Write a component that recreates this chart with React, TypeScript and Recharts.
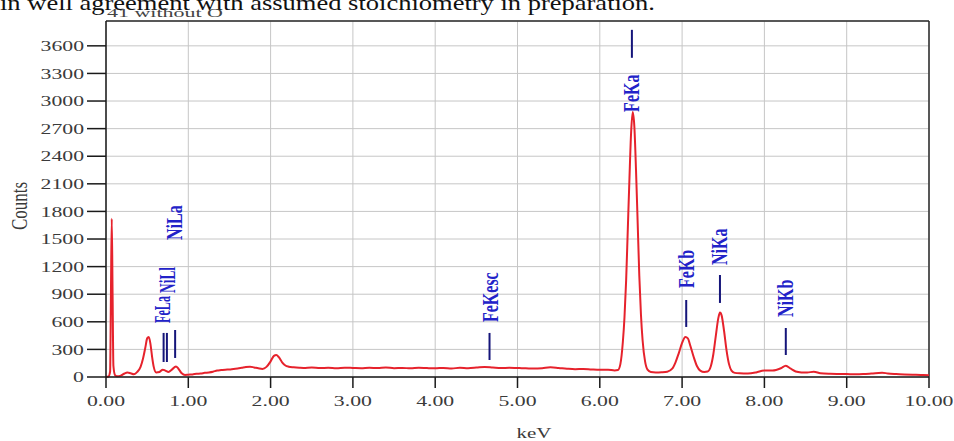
import React from "react";
import { LineChart, Line, XAxis, YAxis, CartesianGrid, ReferenceLine, ReferenceDot } from "recharts";

const energyKeV = [
  0.0, 0.03, 0.05, 0.06, 0.07, 0.08, 0.09, 0.11, 0.14, 0.18, 0.22, 0.26, 0.3, 0.34, 0.38, 0.42, 0.45, 0.48, 0.5, 0.52,
  0.54, 0.56, 0.58, 0.61, 0.65, 0.69, 0.72, 0.76, 0.8, 0.85, 0.88, 0.92, 0.96, 1.0, 1.05, 1.1, 1.15, 1.2, 1.25, 1.3,
  1.35, 1.4, 1.45, 1.5, 1.55, 1.6, 1.65, 1.7, 1.75, 1.8, 1.85, 1.9, 1.95, 2.0, 2.04, 2.07, 2.1, 2.14, 2.18, 2.22,
  2.28, 2.35, 2.4, 2.5, 2.6, 2.7, 2.8, 2.9, 3.0, 3.1, 3.2, 3.3, 3.4, 3.5, 3.6, 3.7, 3.8, 3.9, 4.0, 4.1,
  4.2, 4.3, 4.4, 4.5, 4.6, 4.7, 4.8, 4.9, 5.0, 5.1, 5.2, 5.3, 5.4, 5.5, 5.6, 5.7, 5.8, 5.9, 6.0, 6.1,
  6.18, 6.22, 6.25, 6.28, 6.3, 6.32, 6.34, 6.36, 6.38, 6.4, 6.42, 6.44, 6.46, 6.48, 6.5, 6.52, 6.55, 6.58, 6.62, 6.68,
  6.75, 6.82, 6.88, 6.92, 6.96, 7.0, 7.04, 7.07, 7.1, 7.14, 7.18, 7.22, 7.27, 7.31, 7.35, 7.38, 7.41, 7.44, 7.46, 7.48,
  7.51, 7.54, 7.57, 7.6, 7.64, 7.7, 7.8, 7.9, 8.0, 8.1, 8.2, 8.26, 8.32, 8.38, 8.45, 8.52, 8.6, 8.68, 8.8, 8.9,
  9.0, 9.1, 9.2, 9.3, 9.43, 9.5, 9.6, 9.7, 9.8, 9.9, 10.0,
];

const counts = [
  0, 5, 60, 900, 1720, 900, 120, 20, 8, 15, 35, 48, 40, 30, 55, 110, 200, 330, 420, 435,
  360, 220, 110, 50, 55, 80, 70, 55, 80, 115, 90, 40, 22, 25, 28, 35, 38, 45, 50, 58,
  70, 75, 80, 82, 88, 92, 100, 108, 112, 104, 95, 88, 110, 170, 230, 240, 215, 160, 125, 112,
  105, 100, 98, 102, 97, 100, 96, 101, 98, 95, 100, 97, 103, 96, 99, 94, 100, 97, 95, 99,
  93, 100, 96, 102, 110, 104, 98, 100, 97, 95, 92, 96, 105, 98, 90, 85, 88, 82, 78, 80,
  72, 75, 140, 380, 650, 1050, 1600, 2150, 2650, 2880, 2720, 2250, 1680, 1100, 680, 400, 170, 80, 55, 50,
  52, 58, 90, 160, 260, 370, 435, 420, 340, 220, 120, 70, 55, 60, 120, 250, 450, 640, 700, 670,
  500, 290, 140, 70, 45, 40, 38, 50, 72, 70, 95, 122, 90, 60, 50, 48, 58, 42, 35, 33,
  32, 30, 32, 38, 47, 38, 32, 28, 25, 22, 20,
];

const xTicks = [0, 1, 2, 3, 4, 5, 6, 7, 8, 9, 10];
const yTicks = [0, 300, 600, 900, 1200, 1500, 1800, 2100, 2400, 2700, 3000, 3300, 3600];
const yMax = 3870;

// peak markers (energy in keV, marker line range and label start in counts)
const peakNames = ["FeLa", "NiLl", "NiLa", "FeKesc", "FeKa", "FeKb", "NiKa", "NiKb"];
const peakEnergy = [0.7, 0.74, 0.84, 4.66, 6.39, 7.05, 7.46, 8.26];
const peakLabelEnergy = [0.68, 0.735, 0.83, 4.67, 6.38, 7.04, 7.45, 8.25];
const peakLineLow = [163, 163, 207, 185, 3470, 544, 805, 239];
const peakLineHigh = [479, 479, 511, 479, 3774, 837, 1109, 533];
const peakLabelBase = [587, 914, 1490, 598, 2882, 968, 1218, 653];

// labels that were squeezed to fit in the original
const labelFit: Record<string, number> = { FeLa: 27, NiLl: 26 };

const data = energyKeV.map((e, i) => ({ e, c: counts[i] }));

const SERIF = "'Liberation Serif', 'Times New Roman', serif";
const STRETCH = 1.45;

const YTick = (props: any) => {
  const { x, y, payload } = props;
  return (
    <text
      transform={`translate(${x},${y}) scale(${STRETCH},1)`}
      textAnchor="end"
      dy="0.35em"
      fontFamily={SERIF}
      fontSize={15}
      fill="#3a3a3a"
    >
      {payload.value}
    </text>
  );
};

const XTick = (props: any) => {
  const { x, y, payload } = props;
  return (
    <text
      transform={`translate(${x},${y + 16}) scale(${STRETCH},1)`}
      textAnchor="middle"
      fontFamily={SERIF}
      fontSize={15}
      fill="#3a3a3a"
    >
      {Number(payload.value).toFixed(2)}
    </text>
  );
};

const PeakLabel = (name: string) => (props: any) => {
  const { cx, cy } = props;
  if (cx == null || cy == null) return <g />;
  const fit = labelFit[name];
  return (
    <text
      transform={`translate(${cx},${cy}) scale(${STRETCH},1) rotate(-90)`}
      textAnchor="start"
      dy="0.35em"
      fontFamily={SERIF}
      fontWeight="bold"
      fontSize={16}
      fill="#2222c8"
      {...(fit ? { textLength: fit, lengthAdjust: "spacingAndGlyphs" } : {})}
    >
      {name}
    </text>
  );
};

export default function App() {
  return (
    <div style={{ position: "absolute", left: 0, top: 0, width: 954, height: 441, background: "#fff" }}>
      <LineChart
        width={954}
        height={441}
        data={data}
        margin={{ top: 21, right: 25, bottom: 0, left: 0 }}
      >
        <CartesianGrid stroke="#c6c6c6" strokeWidth={1} />
        <XAxis
          dataKey="e"
          type="number"
          domain={[0, 10]}
          ticks={xTicks}
          interval={0}
          height={64}
          tickSize={11}
          tickMargin={2}
          tick={<XTick />}
          axisLine={{ stroke: "#1a1a1a", strokeWidth: 1.5 }}
          tickLine={{ stroke: "#1a1a1a", strokeWidth: 1.5 }}
          label={{
            content: (p: any) => {
              const vb = p.viewBox || {};
              return (
                <text
                  transform={`translate(${vb.x + vb.width / 2 + 16.5},438) scale(1.4,1)`}
                  textAnchor="middle"
                  fontFamily={SERIF}
                  fontSize={15}
                  fill="#3a3a3a"
                >
                  keV
                </text>
              );
            },
          }}
        />
        <YAxis
          type="number"
          domain={[0, yMax]}
          ticks={yTicks}
          interval={0}
          width={106}
          tickSize={19}
          tickMargin={3}
          tick={<YTick />}
          axisLine={{ stroke: "#1a1a1a", strokeWidth: 1.5 }}
          tickLine={{ stroke: "#1a1a1a", strokeWidth: 1.5 }}
          label={{
            content: () => (
              <text
                transform={`translate(19,206) scale(1.35,1) rotate(-90)`}
                textAnchor="middle"
                dy="0.35em"
                fontFamily={SERIF}
                fontSize={17}
                fill="#3a3a3a"
              >
                Counts
              </text>
            ),
          }}
        />
        <ReferenceLine y={yMax} stroke="#2a2a2a" strokeWidth={1.5} />
        <ReferenceLine x={10} stroke="#2a2a2a" strokeWidth={1.5} />
        <Line
          type="monotone"
          dataKey="c"
          stroke="#e6222c"
          strokeWidth={2}
          dot={false}
          isAnimationActive={false}
        />
        {peakNames.map((n, i) => (
          <ReferenceLine
            key={"l" + n}
            segment={[
              { x: peakEnergy[i], y: peakLineLow[i] },
              { x: peakEnergy[i], y: peakLineHigh[i] },
            ]}
            stroke="#15157a"
            strokeWidth={2}
          />
        ))}
        {peakNames.map((n, i) => (
          <ReferenceDot
            key={"t" + n}
            x={peakLabelEnergy[i]}
            y={peakLabelBase[i]}
            r={0}
            shape={PeakLabel(n)}
          />
        ))}
      </LineChart>
      <svg
        width={954}
        height={441}
        style={{ position: "absolute", left: 0, top: 0, pointerEvents: "none" }}
      >
        <text x={0} y={9.5} fontFamily={SERIF} fontSize={22} fill="#111" textLength={655} lengthAdjust="spacingAndGlyphs">
          in well agreement with assumed stoichiometry in preparation.
        </text>
        <text x={107} y={17} fontFamily={SERIF} fontSize={13} fill="#444" textLength={116} lengthAdjust="spacingAndGlyphs">
          41 without O
        </text>
      </svg>
    </div>
  );
}
